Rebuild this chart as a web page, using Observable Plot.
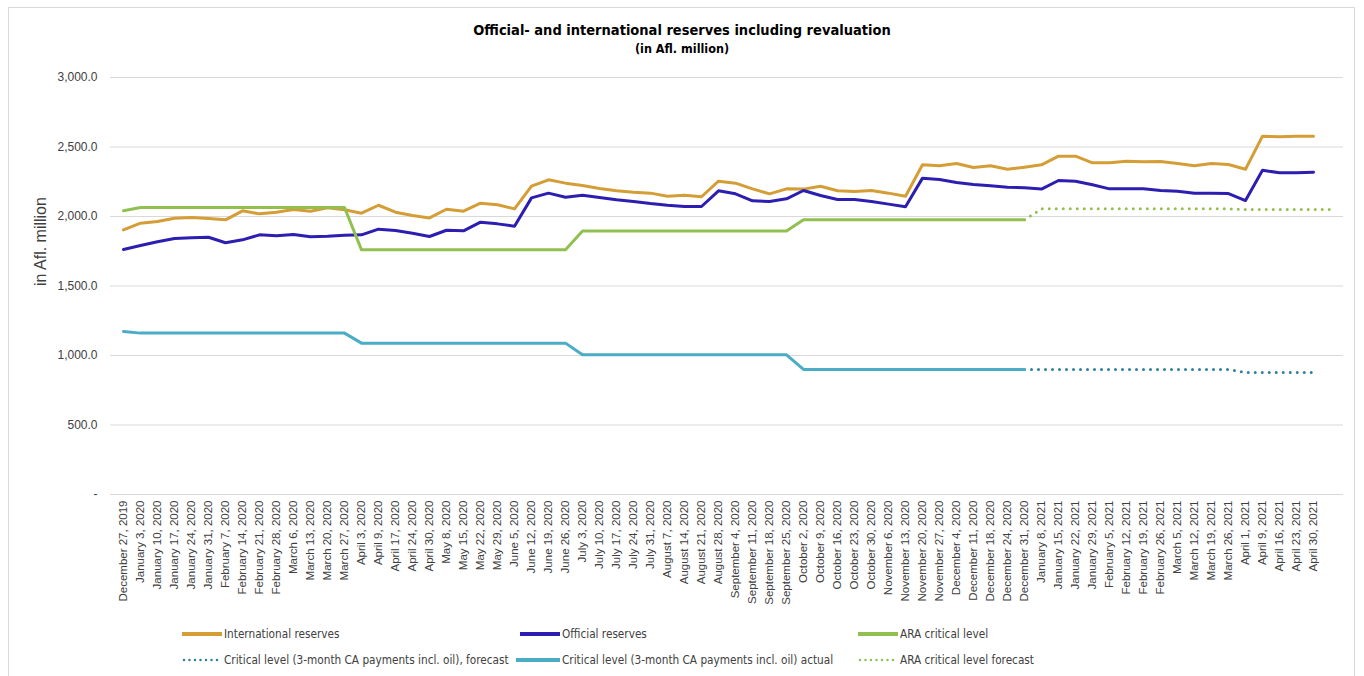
<!DOCTYPE html>
<html>
<head>
<meta charset="utf-8">
<script src="https://cdn.jsdelivr.net/npm/d3@7"></script>
<script src="https://cdn.jsdelivr.net/npm/@observablehq/plot@0.6"></script>
<style>
  html, body { margin: 0; padding: 0; background: #fff; }
  #wrap { position: relative; width: 1364px; height: 676px; overflow: hidden; }
  #frame { position: absolute; left: 8px; top: 7px; width: 1347px; height: 680px; border: 1px solid #D9D9D9; box-sizing: border-box; }
  .title { position: absolute; left: 0; width: 1364px; text-align: center; font-family: "Liberation Sans Narrow", "DejaVu Sans Condensed", sans-serif; font-weight: bold; color: #000; }
  #chart { position: absolute; left: 0; top: 60px; }
  .leg { position: absolute; display: flex; align-items: center; font-family: "Liberation Sans Narrow", "DejaVu Sans Condensed", sans-serif; font-size: 11.7px; color: #404040; white-space: nowrap; }
  .leg svg { margin-right: 2px; }
</style>
</head>
<body>
<div id="wrap">
  <div id="frame"></div>
  <div class="title" style="top:21px; font-size:14.5px; line-height:18px;">Official- and international reserves including revaluation</div>
  <div class="title" style="top:41px; font-size:12.5px; line-height:16px;">(in Afl. million)</div>
  <div id="chart"></div>
  <div id="legend"></div>
</div>
<script>
const dates = ["December 27, 2019","January 3, 2020","January 10, 2020","January 17, 2020","January 24, 2020","January 31, 2020","February 7, 2020","February 14, 2020","February 21, 2020","February 28, 2020","March 6, 2020","March 13, 2020","March 20, 2020","March 27, 2020","April 3, 2020","April 9, 2020","April 17, 2020","April 24, 2020","April 30, 2020","May 8, 2020","May 15, 2020","May 22, 2020","May 29, 2020","June 5, 2020","June 12, 2020","June 19, 2020","June 26, 2020","July 3, 2020","July 10, 2020","July 17, 2020","July 24, 2020","July 31, 2020","August 7, 2020","August 14, 2020","August 21, 2020","August 28, 2020","September 4, 2020","September 11, 2020","September 18, 2020","September 25, 2020","October 2, 2020","October 9, 2020","October 16, 2020","October 23, 2020","October 30, 2020","November 6, 2020","November 13, 2020","November 20, 2020","November 27, 2020","December 4, 2020","December 11, 2020","December 18, 2020","December 24, 2020","December 31, 2020","January 8, 2021","January 15, 2021","January 22, 2021","January 29, 2021","February 5, 2021","February 12, 2021","February 19, 2021","February 26, 2021","March 5, 2021","March 12, 2021","March 19, 2021","March 26, 2021","April 1, 2021","April 9, 2021","April 16, 2021","April 23, 2021","April 30, 2021"," "];

const internationalReserves = [1904,1952,1964,1988,1993,1986,1976,2041,2019,2031, 2050,2038,2062,2048,2024,2081,2031,2007,1990,2052, 2038,2096,2084,2055,2218,2264,2240,2223,2201,2185, 2175,2168,2146,2153,2142,2254,2240,2199,2163,2199, 2197,2218,2185,2180,2187,2168,2146,2372,2365,2381, 2352,2365,2340,2355,2372,2434,2434,2386,2386,2398, 2393,2396,2381,2365,2381,2374,2340,2578,2573,2578,2578, null];

const officialReserves = [1763,1791,1818,1842,1847,1851,1811,1832,1868,1861, 1870,1854,1858,1865,1868,1909,1899,1880,1856,1901, 1897,1959,1947,1930,2134,2168,2139,2153,2137,2120, 2108,2093,2081,2072,2072,2185,2163,2113,2108,2127, 2187,2151,2122,2122,2108,2089,2070,2276,2266,2245, 2230,2221,2211,2206,2197,2259,2254,2228,2199,2199, 2199,2187,2182,2168,2168,2165,2115,2333,2314,2314,2319, null];

const araCritical = [2041,2065,2065,2065,2065,2065,2065,2065,2065,2065, 2065,2065,2065,2065,1760,1760,1760,1760,1760,1760, 1760,1760,1760,1760,1760,1760,1760,1895,1895,1895, 1895,1895,1895,1895,1895,1895,1895,1895,1895,1895, 1976,1976,1976,1976,1976,1976,1976,1976,1976,1976, 1976,1976,1976,1976,null,null,null,null,null,null, null,null,null,null,null,null,null,null,null,null,null, null];

const criticalForecast = [null,null,null,null,null,null,null,null,null,null, null,null,null,null,null,null,null,null,null,null, null,null,null,null,null,null,null,null,null,null, null,null,null,null,null,null,null,null,null,null, null,null,null,null,null,null,null,null,null,null, null,null,null,900,900,900,900,900,900,900, 900,900,900,900,900,900,878,878,878,878,878, null];

const criticalActual = [1173,1161,1161,1161,1161,1161,1161,1161,1161,1161, 1161,1161,1161,1161,1089,1089,1089,1089,1089,1089, 1089,1089,1089,1089,1089,1089,1089,1005,1005,1005, 1005,1005,1005,1005,1005,1005,1005,1005,1005,1005, 900,900,900,900,900,900,900,900,900,900, 900,900,900,900,null,null,null,null,null,null, null,null,null,null,null,null,null,null,null,null,null, null];

const araForecast = [null,null,null,null,null,null,null,null,null,null, null,null,null,null,null,null,null,null,null,null, null,null,null,null,null,null,null,null,null,null, null,null,null,null,null,null,null,null,null,null, null,null,null,null,null,null,null,null,null,null, null,null,null,1976,2055,2055,2055,2055,2055,2055, 2055,2055,2055,2055,2055,2055,2050,2050,2050,2050,2050, 2050];

const yTicks = [0, 500, 1000, 1500, 2000, 2500, 3000];
const yTickLabels = ["-", "500.0", "1,000.0", "1,500.0", "2,000.0", "2,500.0", "3,000.0"];

const seriesNames = ["International reserves", "Official reserves", "ARA critical level",
  "Critical level (3-month CA payments incl. oil), forecast", "Critical level (3-month CA payments incl. oil) actual", "ARA critical level forecast"];
const seriesColors = ["#D59D36", "#2D1EB2", "#92C050", "#2F8199", "#4BACC6", "#92C050"];
const seriesDashed = [false, false, false, true, false, true];
const seriesValues = [internationalReserves, officialReserves, araCritical, criticalForecast, criticalActual, araForecast];

const rows = v => dates.map((d, i) => ({d, v: v[i] == null ? NaN : v[i]}));

const lineMarks = seriesValues.map((vals, k) => Plot.line(rows(vals), {
  x: "d", y: "v",
  stroke: seriesColors[k],
  strokeWidth: 3,
  strokeLinecap: "round",
  strokeLinejoin: "round",
  strokeDasharray: seriesDashed[k] ? "0,7" : null
}));

const chart = Plot.plot({
  width: 1364,
  height: 560,
  marginTop: 17,
  marginBottom: 126,
  marginLeft: 110,
  marginRight: 21,
  style: {fontFamily: "Liberation Sans, Arial, sans-serif", color: "#404040", background: "transparent"},
  x: {type: "point", domain: dates, padding: 0.5},
  y: {domain: [0, 3000]},
  marks: [
    Plot.gridY(yTicks, {stroke: "#D9D9D9", strokeOpacity: 1, strokeWidth: 1}),
    Plot.axisY(yTicks, {tickSize: 0, tickPadding: 13, fontSize: 12, label: null,
      tickFormat: d => yTickLabels[yTicks.indexOf(d)]}),
    Plot.axisX({tickRotate: -90, tickSize: 0, tickPadding: 6, fontSize: 11.5, label: null, tickFormat: d => d}),
    Plot.text(["in Afl. million"], {frameAnchor: "left", rotate: -90, dx: -70, fontSize: 16, fill: "#404040"}),
    ...lineMarks
  ]
});
document.getElementById("chart").appendChild(chart);

// Legend
const legendPos = [
  {x: 182, y: 634, w: 40}, {x: 520, y: 634, w: 40}, {x: 858, y: 634, w: 40},
  {x: 182, y: 660, w: 40}, {x: 516, y: 660, w: 44}, {x: 858, y: 660, w: 40}
];
const legend = document.getElementById("legend");
seriesNames.forEach((name, k) => {
  const p = legendPos[k];
  const item = document.createElement("div");
  item.className = "leg";
  item.style.left = p.x + "px";
  item.style.top = (p.y - 8) + "px";
  item.style.height = "16px";
  const dash = seriesDashed[k] ? ' stroke-dasharray="0,5.5" stroke-linecap="round"' : ' stroke-linecap="butt"';
  item.innerHTML = `<svg width="${p.w}" height="8"><line x1="${seriesDashed[k] ? 2 : 0}" y1="4" x2="${p.w}" y2="4" stroke="${seriesColors[k]}" stroke-width="${seriesDashed[k] ? 2.5 : 4}"${dash}/></svg><span>${name}</span>`;
  legend.appendChild(item);
});
</script>
</body>
</html>
